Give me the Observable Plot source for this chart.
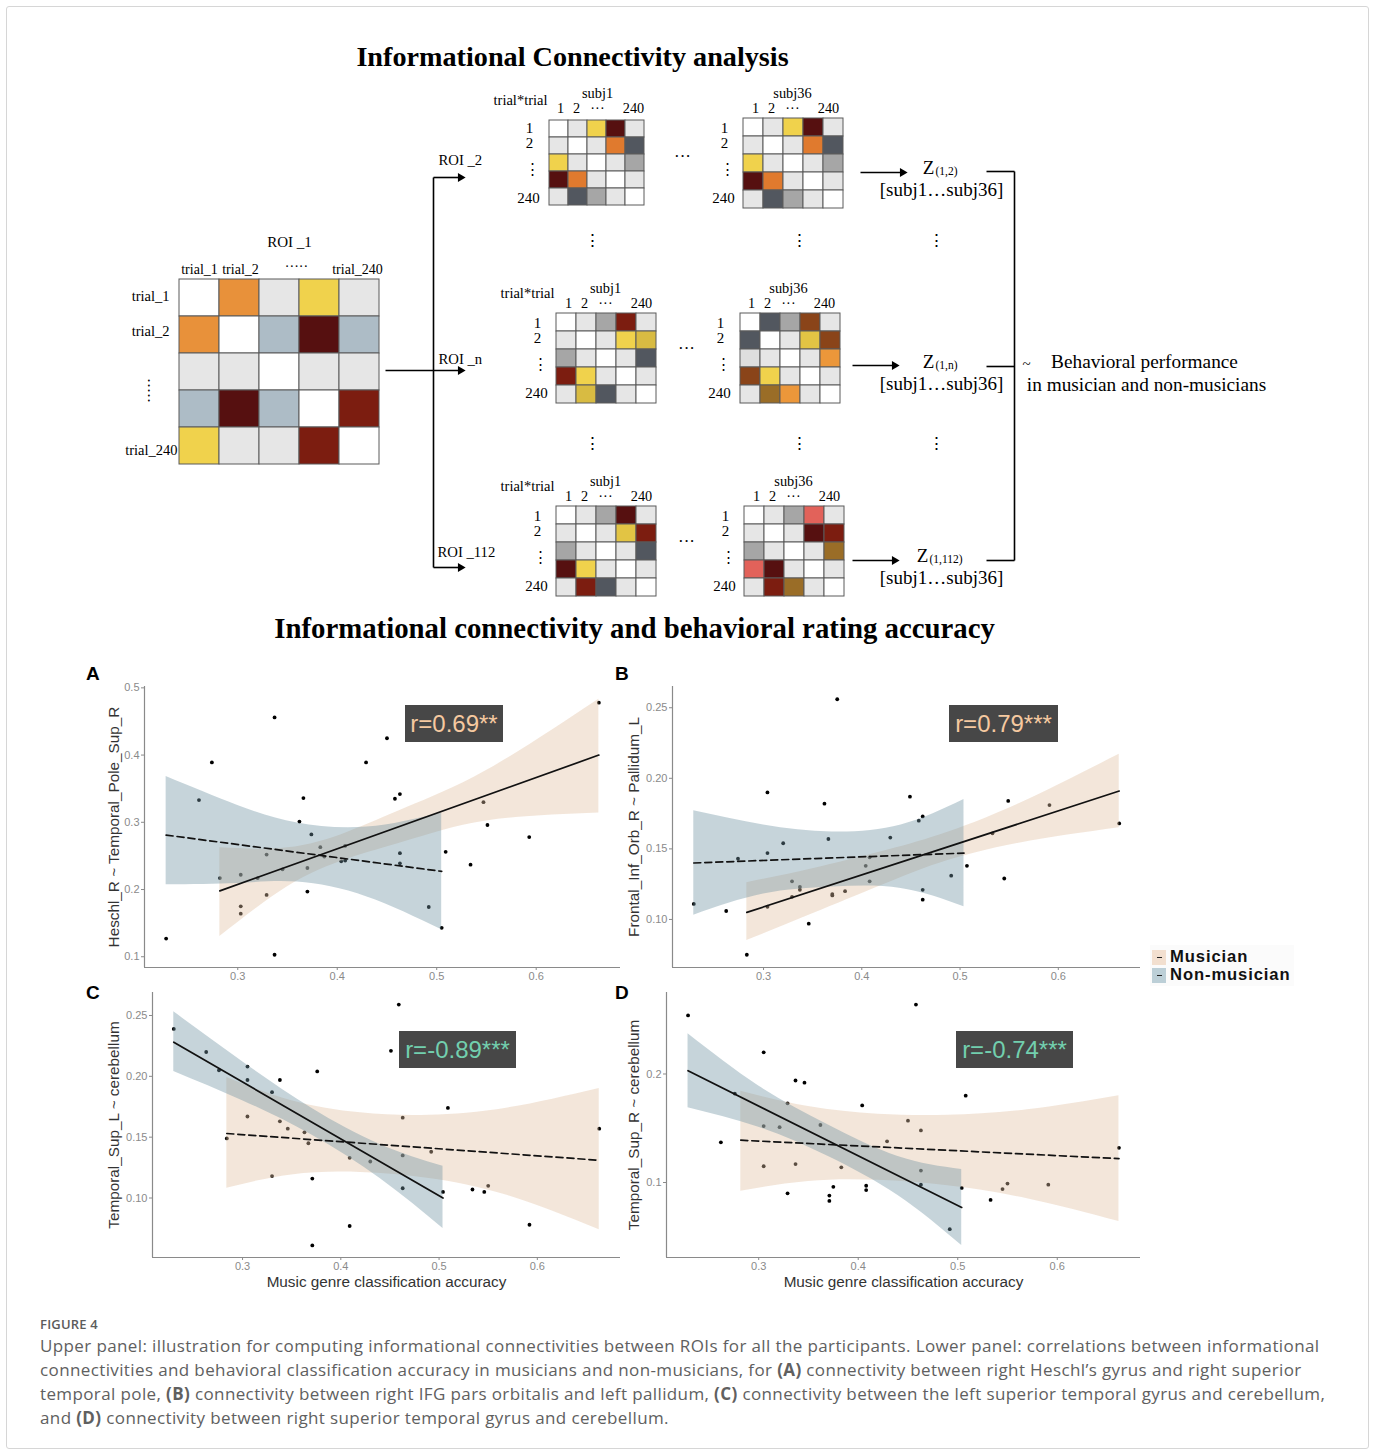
<!DOCTYPE html>
<html>
<head>
<meta charset="utf-8">
<script src="https://cdn.jsdelivr.net/npm/d3@7"></script>
<script src="https://cdn.jsdelivr.net/npm/@observablehq/plot@0.6"></script>
<style>
html,body{margin:0;padding:0;background:#fff;}
#page{position:relative;width:1375px;height:1452px;overflow:hidden;background:#fff;}
#page svg{background:transparent;}
.rbox{position:absolute;background:#474747;font-family:'Liberation Sans',Arial,sans-serif;font-size:24px;height:37px;line-height:37px;text-align:center;white-space:nowrap;}
.letter{position:absolute;font-family:'Liberation Sans',Arial,sans-serif;font-weight:bold;font-size:19px;color:#000;}
.cap{position:absolute;left:40px;font-family:'Open Sans','Noto Sans',sans-serif;font-size:17px;letter-spacing:0.38px;color:#606060;white-space:nowrap;}
</style>
</head>
<body>
<div id="page"></div>
<script>
// ---------------- Upper panel: matrix cell codes ----------------
const roi1Cells    = ["W O L Y L","O W B D B","L L W L L","B D B W R","Y L L R W"];
const roi2Subj1    = ["W L Y D L","L W L T S","Y L W L G","D T L W L","L S G L W"];
const roi2Subj36   = ["W L Y D L","L W L T S","Y L W L G","D T L W L","L S G L W"];
const roiNSubj1    = ["W L G R L","L W L Y K","G L W L S","R Y L W L","L K S L W"];
const roiNSubj36   = ["W S G N L","S W L Q N","H L W L A","N Y L W L","L M A L W"];
const roi112Subj1  = ["W L G D L","L W L Q R","G L W L S","D Y L W L","L R S L W"];
const roi112Subj36 = ["W L G P L","L W L D R","G L W L M","P D L W L","L R M L W"];
const colTicks = ["1","2","···","240"];
const rowTicks = ["1","2","⋮","240"];

// ---------------- Lower panel: data ----------------
const groups = ["Musician","Non-musician"];
const xTicks = [0.3,0.4,0.5,0.6];
// Panel A
const aX = [0.228,0.261,0.274,0.282,0.303,0.303,0.303,0.320,0.329,0.329,0.337,0.337,0.345,0.362,0.366,0.370,0.370,0.374,0.383,0.387,0.404,0.408,0.408,0.429,0.450,0.458,0.463,0.463,0.463,0.492,0.505,0.509,0.534,0.547,0.551,0.593,0.663];
const aY = [0.127,0.333,0.389,0.217,0.222,0.175,0.164,0.217,0.252,0.192,0.456,0.103,0.230,0.301,0.336,0.232,0.197,0.282,0.263,0.249,0.242,0.243,0.265,0.389,0.425,0.335,0.342,0.254,0.239,0.174,0.143,0.256,0.237,0.330,0.296,0.278,0.478];
const aMusX = [0.282,0.35,0.41,0.47,0.55,0.663];
const aMusLo = [0.130,0.204,0.245,0.272,0.302,0.314];
const aMusHi = [0.262,0.262,0.285,0.322,0.377,0.483];
const aMusFit = [0.198,0.400];
const aNonX = [0.228,0.30,0.36,0.43,0.505];
const aNonLo = [0.207,0.209,0.211,0.189,0.140];
const aNonHi = [0.368,0.325,0.299,0.293,0.314];
const aNonFit = [0.281,0.227];
// Panel B
const bX = [0.229,0.262,0.283,0.274,0.304,0.304,0.304,0.320,0.329,0.329,0.337,0.337,0.346,0.362,0.366,0.370,0.370,0.375,0.383,0.404,0.408,0.408,0.429,0.449,0.458,0.462,0.462,0.462,0.491,0.507,0.533,0.545,0.549,0.591,0.662];
const bY = [0.111,0.106,0.075,0.143,0.190,0.147,0.109,0.154,0.127,0.116,0.123,0.121,0.097,0.182,0.157,0.118,0.117,0.256,0.120,0.138,0.144,0.127,0.158,0.187,0.170,0.173,0.121,0.114,0.131,0.138,0.161,0.129,0.184,0.181,0.168];
const bMusX = [0.283,0.35,0.42,0.48,0.56,0.662];
const bMusLo = [0.085,0.104,0.124,0.140,0.154,0.165];
const bMusHi = [0.126,0.136,0.148,0.160,0.182,0.217];
const bMusFit = [0.105,0.191];
const bNonX = [0.229,0.30,0.37,0.44,0.504];
const bNonLo = [0.103,0.118,0.123,0.122,0.109];
const bNonHi = [0.177,0.167,0.162,0.167,0.185];
const bNonFit = [0.140,0.147];
// Panel C
const cX = [0.230,0.263,0.276,0.284,0.305,0.305,0.305,0.330,0.330,0.338,0.338,0.346,0.363,0.367,0.371,0.371,0.376,0.409,0.409,0.430,0.451,0.459,0.463,0.463,0.463,0.492,0.504,0.509,0.534,0.546,0.550,0.592,0.663];
const cY = [0.239,0.220,0.205,0.149,0.208,0.197,0.167,0.187,0.118,0.197,0.163,0.157,0.154,0.145,0.116,0.061,0.204,0.133,0.077,0.130,0.221,0.259,0.166,0.135,0.108,0.138,0.105,0.174,0.107,0.105,0.110,0.078,0.157];
const cMusX = [0.284,0.35,0.42,0.49,0.57,0.663];
const cMusLo = [0.108,0.119,0.121,0.116,0.102,0.074];
const cMusHi = [0.199,0.180,0.170,0.168,0.174,0.190];
const cMusFit = [0.153,0.131];
const cNonX = [0.230,0.30,0.37,0.44,0.504];
const cNonLo = [0.204,0.180,0.152,0.116,0.075];
const cNonHi = [0.253,0.212,0.174,0.144,0.126];
const cNonFit = [0.228,0.100];
// Panel D
const dX = [0.229,0.262,0.276,0.305,0.305,0.305,0.321,0.329,0.329,0.337,0.337,0.346,0.362,0.371,0.371,0.375,0.383,0.404,0.408,0.408,0.429,0.450,0.458,0.463,0.463,0.463,0.492,0.504,0.508,0.533,0.545,0.550,0.591,0.662];
const dY = [0.254,0.137,0.182,0.220,0.152,0.115,0.151,0.173,0.090,0.194,0.117,0.192,0.153,0.088,0.083,0.096,0.114,0.171,0.097,0.093,0.138,0.157,0.264,0.148,0.111,0.098,0.057,0.095,0.180,0.084,0.094,0.099,0.098,0.132];
const dMusX = [0.282,0.35,0.42,0.49,0.57,0.662];
const dMusLo = [0.092,0.101,0.102,0.097,0.085,0.064];
const dMusHi = [0.184,0.170,0.163,0.162,0.167,0.180];
const dMusFit = [0.139,0.122];
const dNonX = [0.229,0.30,0.37,0.44,0.504];
const dNonLo = [0.169,0.151,0.124,0.088,0.042];
const dNonHi = [0.237,0.189,0.153,0.124,0.112];
const dNonFit = [0.203,0.077];

const rLabels = ["r=0.69**","r=0.79***","r=-0.89***","r=-0.74***"];

// ---------------- styles ----------------
const CELL = {W:"#ffffff",L:"#e6e6e6",H:"#dedede",O:"#e8913a",Y:"#f0d24c",D:"#561010",R:"#7c1d10",B:"#adbcc6",G:"#a6a6a6",S:"#52575f",T:"#e07a2e",K:"#d8bb42",N:"#8a4419",M:"#9a6d27",P:"#e2625a",A:"#ec973a",Q:"#e2c444"};
const MUS_FILL = "#e1c0a2", NON_FILL = "#7093a2";
const SERIF = "'Liberation Serif','Times New Roman',serif";
const SANS = "'Liberation Sans',Arial,sans-serif";

const page = document.getElementById("page");
function place(node, left, top) {
  node.style.position = "absolute";
  node.style.left = left + "px";
  node.style.top = top + "px";
  page.appendChild(node);
  return node;
}
function div(cls, html, left, top, css) {
  const d = document.createElement("div");
  if (cls) d.className = cls;
  d.innerHTML = html;
  if (css) Object.assign(d.style, css);
  return place(d, left, top);
}

// frame
div("", "", 6, 6, {width:"1361px", height:"1441px", border:"1px solid #d6d6d6", borderRadius:"3px"});

// ---------------- Upper panel layout ----------------
const matrices = [
  {cells: roi1Cells,    left:177, top:278, w:203, h:186, big:true},
  {cells: roi2Subj1,    left:547, top:118, w:98,  h:88,  subj:"subj1"},
  {cells: roi2Subj36,   left:742, top:118, w:102, h:90,  subj:"subj36"},
  {cells: roiNSubj1,    left:555, top:313, w:102, h:90,  subj:"subj1"},
  {cells: roiNSubj36,   left:738, top:313, w:104, h:90,  subj:"subj36"},
  {cells: roi112Subj1,  left:555, top:506, w:102, h:90,  subj:"subj1"},
  {cells: roi112Subj36, left:743, top:506, w:102, h:90,  subj:"subj36"}
];

const centerLabels = [
  {x:572, y:56,  t:"Informational Connectivity analysis", s:28.2, b:true},
  {x:634, y:628, t:"Informational connectivity and behavioral rating accuracy", s:28.8, b:true},
  {x:289, y:242, t:"ROI _1", s:15},
  {x:199, y:269, t:"trial_1", s:14}, {x:240, y:269, t:"trial_2", s:14},
  {x:296, y:266, t:"·····", s:14}, {x:357, y:269, t:"trial_240", s:14},
  {x:520, y:100, t:"trial*trial", s:14.5}, {x:527, y:293, t:"trial*trial", s:14.5}, {x:527, y:486, t:"trial*trial", s:14.5},
  {x:682, y:156, t:"···", s:17}, {x:686, y:348, t:"···", s:17}, {x:686, y:541, t:"···", s:17},
  {x:592, y:240, t:"⋮", s:17}, {x:799, y:240, t:"⋮", s:17}, {x:936, y:240, t:"⋮", s:17},
  {x:592, y:443, t:"⋮", s:17}, {x:799, y:443, t:"⋮", s:17}, {x:936, y:443, t:"⋮", s:17},
  {x:928, y:167, t:"Z", s:19}, {x:928, y:361, t:"Z", s:19}, {x:922, y:555, t:"Z", s:19},
  {x:941, y:189, t:"[subj1…subj36]", s:19}, {x:941, y:383, t:"[subj1…subj36]", s:19}, {x:941, y:577, t:"[subj1…subj36]", s:19},
  {x:1026, y:364, t:"~", s:15},
  {x:1144, y:361, t:"Behavioral performance", s:19.3},
  {x:1146, y:384, t:"in musician and non-musicians", s:19.3}
];
const startLabels = [
  {x:438, y:160, t:"ROI _2", s:14.7}, {x:438, y:359, t:"ROI _n", s:14.7}, {x:437, y:552, t:"ROI _112", s:14.7},
  {x:935, y:171, t:"(1,2)", s:11.5}, {x:935, y:365, t:"(1,n)", s:11.5}, {x:929, y:559, t:"(1,112)", s:11.5}
];
const endLabels = [
  {x:169, y:296, t:"trial_1", s:14.5}, {x:169, y:331, t:"trial_2", s:14.5}, {x:177, y:450, t:"trial_240", s:14.5}
];
// small-matrix axis labels derived from matrix layout
const colOff = [13, 29, 50, 86], rowOff = [10, 25, 51, 80], rowX = [-18, -18, -15, -19];
matrices.filter(m => !m.big).forEach(m => {
  centerLabels.push({x: m.left + 50, y: m.top - 25, t: m.subj, s: 14.4});
  colTicks.forEach((t, i) => centerLabels.push({x: m.left + colOff[i], y: m.top - 10, t, s: 14.3}));
  rowTicks.forEach((t, i) => centerLabels.push({x: m.left + rowX[i], y: m.top + rowOff[i], t, s: 15}));
});
const connectors = [
  {x1:385, y1:370, x2:458, y2:370}, {x1:433, y1:177, x2:433, y2:567},
  {x1:433, y1:177, x2:458, y2:177}, {x1:433, y1:567, x2:458, y2:567},
  {x1:860, y1:172, x2:901, y2:172}, {x1:852, y1:365, x2:893, y2:365}, {x1:852, y1:560, x2:893, y2:560},
  {x1:986, y1:171, x2:1014, y2:171}, {x1:986, y1:366, x2:1014, y2:366}, {x1:986, y1:560, x2:1014, y2:560},
  {x1:1014, y1:171, x2:1014, y2:560}
];
const arrowTips = [{x:460,y:177},{x:460,y:370},{x:460,y:567},{x:902,y:172},{x:894,y:365},{x:894,y:560}];

const overlay = Plot.plot({
  width: 1375, height: 645, margin: 0,
  x: {domain: [0, 1375], range: [0, 1375], axis: null},
  y: {domain: [0, 645], range: [0, 645], axis: null},
  style: {fontFamily: SERIF, background: "transparent", color: "#000", overflow: "visible"},
  marks: [
    Plot.link(connectors, {x1:"x1", y1:"y1", x2:"x2", y2:"y2", stroke:"#000", strokeWidth:1.6}),
    Plot.dot(arrowTips, {x:"x", y:"y", symbol:"triangle", r:3.3, fill:"#000", rotate:90}),
    Plot.text(centerLabels.filter(d => !d.b), {x:"x", y:"y", text:"t", fontSize: d => d.s, textAnchor:"middle", fill:"#000"}),
    Plot.text(centerLabels.filter(d => d.b), {x:"x", y:"y", text:"t", fontSize: d => d.s, textAnchor:"middle", fontWeight:"bold", fill:"#000"}),
    Plot.text(startLabels, {x:"x", y:"y", text:"t", fontSize: d => d.s, textAnchor:"start", fill:"#000"}),
    Plot.text(endLabels, {x:"x", y:"y", text:"t", fontSize: d => d.s, textAnchor:"end", fill:"#000"}),
    Plot.text([{x:148, y:390, t:"·····"}], {x:"x", y:"y", text:"t", rotate:90, fontSize:15, fill:"#000"})
  ]
});
place(overlay, 0, 0);

function matrixPlot(m) {
  const cells = [];
  m.cells.forEach((row, i) => row.split(" ").forEach((c, j) => cells.push({row: i, col: j, code: c})));
  return Plot.plot({
    width: m.w + 2, height: m.h + 2, margin: 1,
    x: {type:"band", domain: d3.range(5), padding: 0, axis: null},
    y: {type:"band", domain: d3.range(5), padding: 0, axis: null},
    color: {type: "identity"},
    style: {background: "transparent"},
    marks: [
      Plot.cell(cells, {x:"col", y:"row", fill: d => CELL[d.code], stroke:"#5a5a5a", strokeWidth: 1})
    ]
  });
}
matrices.forEach(m => place(matrixPlot(m), m.left - 1, m.top - 1));

// ---------------- Lower panels ----------------
function scatterPanel(o) {
  const pts = o.px.map((x, i) => ({x, y: o.py[i]}));
  const mkBand = (xs, lo, hi) => xs.map((x, i) => ({x, lo: lo[i], hi: hi[i]}));
  const mkFit = (xs, f) => [{x: xs[0], y: f[0]}, {x: xs[xs.length - 1], y: f[1]}];
  const mus = mkBand(o.musX, o.musLo, o.musHi), non = mkBand(o.nonX, o.nonLo, o.nonHi);
  const ys = [...o.py, ...o.musLo, ...o.musHi, ...o.nonLo, ...o.nonHi];
  const xs = [...o.px, ...o.musX, ...o.nonX];
  const expand = ([a, b]) => [a - (b - a) * 0.05, b + (b - a) * 0.05];
  const xDom = expand(d3.extent(xs)), yDom = expand(d3.extent(ys));
  const dash = "7,4";
  return Plot.plot({
    width: o.width, height: o.height, marginLeft: o.ml, marginRight: 5, marginTop: o.mt, marginBottom: o.mb,
    style: {background: "transparent", color: "#8a8a8a", fontFamily: SANS, overflow: "visible"},
    x: {domain: xDom},
    y: {domain: yDom},
    marks: [
      Plot.dot(pts, {x:"x", y:"y", r:1.9, fill:"#000"}),
      Plot.areaY(mus, {x:"x", y1:"lo", y2:"hi", fill: MUS_FILL, fillOpacity: 0.4, curve: "natural"}),
      Plot.areaY(non, {x:"x", y1:"lo", y2:"hi", fill: NON_FILL, fillOpacity: 0.4, curve: "natural"}),
      Plot.line(mkFit(o.musX, o.musFit), {x:"x", y:"y", stroke:"#111", strokeWidth:1.7, strokeDasharray: o.musSolid ? undefined : dash}),
      Plot.line(mkFit(o.nonX, o.nonFit), {x:"x", y:"y", stroke:"#111", strokeWidth:1.7, strokeDasharray: o.musSolid ? dash : undefined}),
      Plot.ruleX([xDom[0]], {stroke:"#8a8a8a", strokeWidth:1.2}),
      Plot.ruleY([yDom[0]], {stroke:"#8a8a8a", strokeWidth:1.2}),
      Plot.axisX({ticks: xTicks, tickFormat: d3.format(".1f"), tickSize: 3, tickPadding: 2, fontSize: 11, label: null}),
      Plot.axisY({ticks: o.yTicks, tickFormat: d3.format(o.yFmt), tickSize: 3, tickPadding: 2, fontSize: 11, label: null}),
      Plot.text([o.yLabel], {text: d => d, frameAnchor: "left", textAnchor: "middle", lineAnchor: "middle", rotate: -90, dx: o.yLabDx, fontSize: 15.3, fill: "#333"}),
      o.xLabel ? Plot.text([o.xLabel], {text: d => d, frameAnchor: "bottom", textAnchor: "middle", lineAnchor: "middle", dy: 25, fontSize: 15.3, fill: "#333"}) : null
    ]
  });
}

const panels = [
  {letter:"A", lx:86, ly:663, left:90, top:670, width:535, height:317, ml:54, mt:16, mb:20,
   px:aX, py:aY, musX:aMusX, musLo:aMusLo, musHi:aMusHi, musFit:aMusFit, nonX:aNonX, nonLo:aNonLo, nonHi:aNonHi, nonFit:aNonFit,
   musSolid:true, yTicks:[0.1,0.2,0.3,0.4,0.5], yFmt:".1f", yLabel:"Heschl_R ~ Temporal_Pole_Sup_R", yLabDx:-30,
   r:rLabels[0], rColor:"#f5c9a0", bx:405, by:705, bw:98},
  {letter:"B", lx:615, ly:663, left:615, top:670, width:530, height:317, ml:57, mt:16, mb:20,
   px:bX, py:bY, musX:bMusX, musLo:bMusLo, musHi:bMusHi, musFit:bMusFit, nonX:bNonX, nonLo:bNonLo, nonHi:bNonHi, nonFit:bNonFit,
   musSolid:true, yTicks:[0.10,0.15,0.20,0.25], yFmt:".2f", yLabel:"Frontal_Inf_Orb_R ~ Pallidum_L", yLabDx:-38,
   r:rLabels[1], rColor:"#f5c9a0", bx:949, by:705, bw:109},
  {letter:"C", lx:86, ly:982, left:90, top:980, width:535, height:317, ml:62, mt:12, mb:40,
   px:cX, py:cY, musX:cMusX, musLo:cMusLo, musHi:cMusHi, musFit:cMusFit, nonX:cNonX, nonLo:cNonLo, nonHi:cNonHi, nonFit:cNonFit,
   musSolid:false, yTicks:[0.10,0.15,0.20,0.25], yFmt:".2f", yLabel:"Temporal_Sup_L ~ cerebellum", yLabDx:-38,
   xLabel:"Music genre classification accuracy", r:rLabels[2], rColor:"#72cfae", bx:399, by:1031, bw:117},
  {letter:"D", lx:615, ly:982, left:615, top:980, width:530, height:317, ml:51, mt:12, mb:40,
   px:dX, py:dY, musX:dMusX, musLo:dMusLo, musHi:dMusHi, musFit:dMusFit, nonX:dNonX, nonLo:dNonLo, nonHi:dNonHi, nonFit:dNonFit,
   musSolid:false, yTicks:[0.1,0.2], yFmt:".1f", yLabel:"Temporal_Sup_R ~ cerebellum", yLabDx:-32,
   xLabel:"Music genre classification accuracy", r:rLabels[3], rColor:"#72cfae", bx:956, by:1031, bw:117}
];
panels.forEach(p => {
  place(scatterPanel(p), p.left, p.top);
  div("letter", p.letter, p.lx, p.ly);
  div("rbox", p.r, p.bx, p.by, {width: p.bw + "px", color: p.rColor});
});

// legend
const legendColors = {"Musician":"#f2dfcf", "Non-musician":"#bccfd7"};
const leg = div("", "", 1150, 945, {width:"144px", height:"41px", background:"#fbfbfb", fontFamily:SANS});
groups.forEach((g, i) => {
  const row = document.createElement("div");
  row.style.cssText = "position:absolute;left:2px;top:" + (3 + i * 18) + "px;height:18px;display:flex;align-items:center;";
  row.innerHTML = '<span style="display:inline-block;width:14px;height:15px;background:' + legendColors[g] + ';position:relative;"><span style="position:absolute;left:5px;top:7px;width:5px;height:1.6px;background:#222;"></span></span>' +
    '<span style="font-weight:bold;font-size:16.6px;line-height:18px;letter-spacing:0.9px;margin-left:4px;color:#111;">' + g + '</span>';
  leg.appendChild(row);
});

// caption
div("", "FIGURE 4", 40, 1315, {fontFamily:"'Open Sans','Noto Sans',sans-serif", fontSize:"13px", fontWeight:"600", color:"#5c5c5c", letterSpacing:"0.2px"});
const capLines = [
  "Upper panel: illustration for computing informational connectivities between ROIs for all the participants. Lower panel: correlations between informational",
  "connectivities and behavioral classification accuracy in musicians and non-musicians, for <b>(A)</b> connectivity between right Heschl’s gyrus and right superior",
  "temporal pole, <b>(B)</b> connectivity between right IFG pars orbitalis and left pallidum, <b>(C)</b> connectivity between the left superior temporal gyrus and cerebellum,",
  "and <b>(D)</b> connectivity between right superior temporal gyrus and cerebellum."
];
capLines.forEach((t, i) => div("cap", t, 40, 1334 + i * 24));
</script>
</body>
</html>
